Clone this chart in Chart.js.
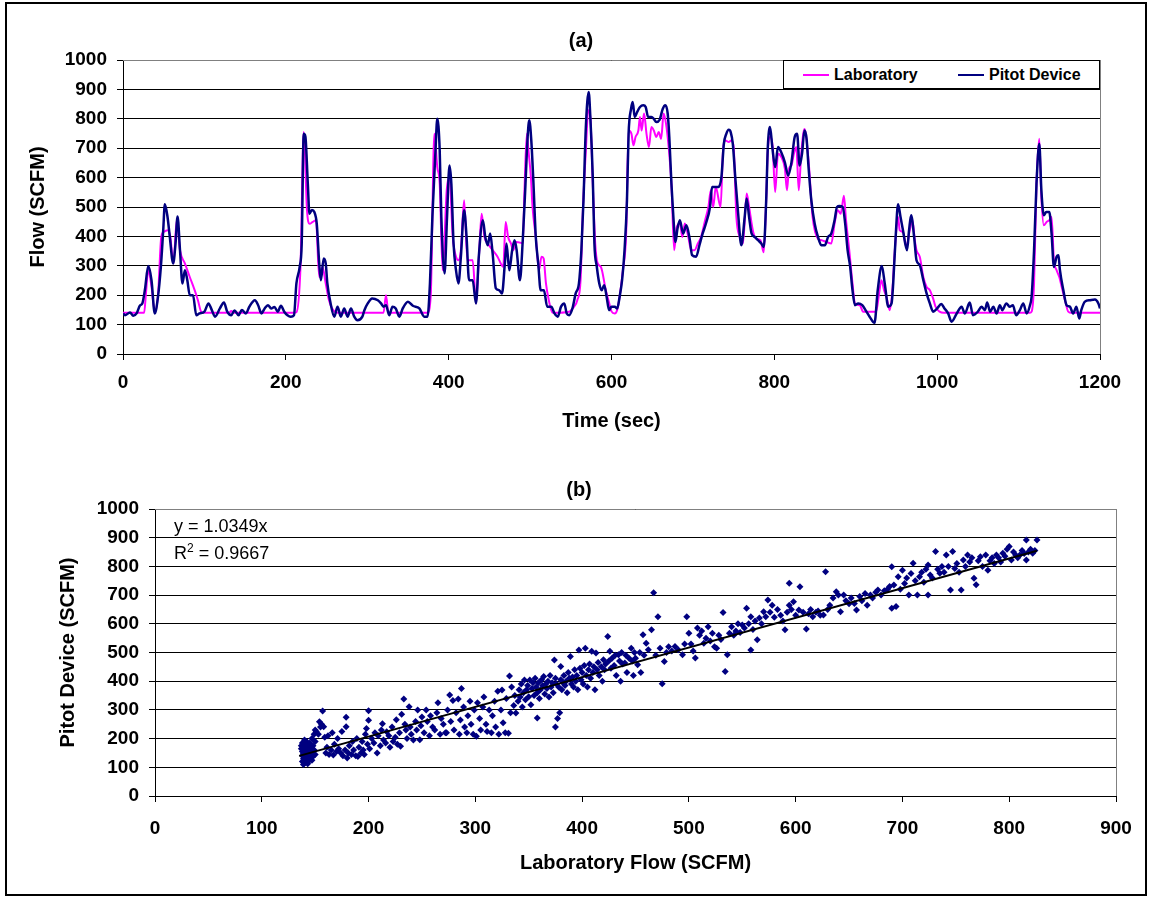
<!DOCTYPE html>
<html>
<head>
<meta charset="utf-8">
<script src="https://cdn.jsdelivr.net/npm/chart.js@4.4.0/dist/chart.umd.min.js"></script>
<style>
  body { margin: 0; background: #fff; font-family: "Liberation Sans", Arial, sans-serif; }
  #page { position: relative; width: 1151px; height: 898px; overflow: hidden; background: #fff; }
  #frame { position: absolute; left: 5px; top: 2px; width: 1142px; height: 894px; border: 2px solid #000; box-sizing: border-box; }
  canvas { position: absolute; left: 0; }
  #chartA { top: 0; }
  #chartB { top: 450px; }
  .ttl { position: absolute; font-weight: bold; font-size: 20px; color: #000; transform: translate(-50%, -50%); white-space: nowrap; }
  #legendA { position: absolute; left: 783px; top: 60px; width: 317px; height: 29px; box-sizing: border-box; border: 1px solid #000; background: #fff; font-weight: bold; font-size: 16px; }
  #legendA .item { position: absolute; top: 0; height: 27px; line-height: 27px; white-space: nowrap; }
  #legendA .swatch { display: inline-block; width: 26px; height: 2px; vertical-align: middle; margin-right: 5px; position: relative; top: -1px; }
  .eq { position: absolute; left: 174px; font-size: 18px; color: #000; white-space: nowrap; line-height: 20px; }
  .eq sup { font-size: 12px; line-height: 0; vertical-align: 7px; }
</style>
</head>
<body>
<div id="page">
  <div id="frame"></div>
  <canvas id="chartA" width="1151" height="450"></canvas>
  <canvas id="chartB" width="1151" height="448"></canvas>
  <div class="ttl" style="left:581px;top:40px;">(a)</div>
  <div class="ttl" style="left:579px;top:489px;">(b)</div>
  <div id="legendA"></div>
  <div class="eq" style="top:516px;">y = 1.0349x</div>
  <div class="eq" style="top:543px;">R<sup>2</sup> = 0.9667</div>
</div>
<script>
// ===== DATA (a): time (sec) vs flow (SCFM) =====
const labSeries = [
  [0,140],[26,140],[28,200],[31,285],[35,230],[39,145],[43,200],[47,398],[50,415],[55,421],[58,400],[62,308],[66,455],[70,353],
  [76,308],[82,262],[88,217],[92,183],[96,144],[100,140],[130,140],[133,146],[136,140],[210,140],[213,142],[218,296],[222,755],
  [226,489],[229,443],[233,449],[237,455],[241,262],[245,296],[249,240],[253,183],[260,144],[265,140],[320,140],[323,200],[326,140],
  [374,140],[378,200],[382.4,749],[386,636],[389,579],[392.6,285],[397.6,557],[401,602],[405,398],[409,331],[412.3,319],[415,353],
  [419,523],[423,319],[429.5,319],[433.6,172],[437.6,353],[440.5,477],[444,398],[448,376],[454,353],[460,331],[464,308],[467,296],
  [470,449],[473,398],[476.5,376],[479.4,353],[482.6,381],[489,378],[491,376],[493,545],[496,749],[498,692],[501,602],[503,500],
  [507,398],[511,285],[514,331],[516.6,325],[519.5,240],[523,183],[527.6,140],[548,144],[554,161],[558,183],[562,251],[565,500],
  [568.5,692],[571.4,829],[574,806],[577,579],[580,376],[583,308],[587,296],[593,217],[597,175],[600,145],[604,138],[607,150],
  [610,195],[614,285],[618,410],[621,760],[624.5,749],[627,710],[629.5,738],[633,760],[635,806],[637,760],[640,818],[643,749],
  [646,704],[649,772],[652,760],[655,738],[658,755],[661,732],[664,818],[667,783],[670,710],[673.6,579],[677,353],[680,430],
  [684,444],[687,398],[690,444],[694,403],[698,353],[702,353],[706,376],[710,398],[715,455],[719,500],[722,557],[725,500],
  [728,568],[734,500],[737,692],[740,726],[744,721],[747,726],[750,704],[753.4,466],[757.5,398],[761.5,376],[766,546],[769,500],
  [774,415],[778,392],[783,387],[787,346],[790,523],[792,692],[795,738],[798,704],[801,551],[804.5,681],[808.6,670],[813,630],
  [815.5,557],[818,630],[821,641],[824,681],[827,704],[830,557],[833,680],[837,765],[842,659],[847,466],[853.6,392],[858,387],
  [864,381],[870,376],[874,444],[878,489],[881.5,477],[885.5,538],[888,457],[892,353],[896,240],[899,172],[905,166],[909,144],
  [925,144],[928.7,206],[931.5,251],[934.8,217],[937.7,195],[941.8,149],[945,217],[948,353],[952,466],[954,421],[958,415],
  [962,364],[966.3,421],[969.6,455],[972.5,387],[974.6,353],[978.7,330],[983,262],[987,228],[991,217],[995,189],[998,161],
  [1003,144],[1008,140],[1114,140],[1116,144],[1119,240],[1122,579],[1125.4,732],[1128,532],[1131,438],[1134.4,449],[1137.7,455],
  [1140.5,466],[1143.4,319],[1146.7,285],[1150,262],[1153,228],[1157,183],[1161,144],[1165,140],[1200,140]
];

const pitotSeries = [
  [0,138],[2.4,132],[8.6,141],[12.6,130],[16.7,138],[20.8,165],[23.7,172],[27,220],[31,299],[35,251],[39,138],[43,195],[46.5,296],
  [49.4,421],[51.4,509],[54.7,466],[57.5,398],[61.6,308],[64.5,375],[67,468],[70,353],[73,240],[76,285],[79,251],[82,200],[86,200],
  [90,132],[94,138],[100,144],[105,172],[109,150],[113,127],[119,155],[124,175],[128,144],[133,132],[137,148],[142,132],[146,150],
  [151,138],[155,160],[162,183],[166,166],[170,138],[174,155],[178,166],[182,155],[186,160],[190,144],[194,164],[198,144],[202,132],
  [206,127],[210,132],[213,240],[217,296],[219.5,375],[222,749],[224,740],[227,579],[229,477],[232,490],[235,483],[238,443],[241,308],
  [243,251],[246.5,325],[249,308],[251,240],[255,172],[259.5,127],[263.5,161],[267.6,127],[271.7,155],[275.8,127],[280,155],[284,127],
  [288,115],[294,127],[296.5,149],[300.6,172],[306,189],[313,183],[317,172],[320,161],[323,166],[327,132],[331,161],[335,155],
  [339.5,127],[343.6,155],[350,178],[356,164],[364,155],[370,127],[374,127],[377,240],[380,466],[384,704],[386,800],[389,692],
  [391,466],[395,274],[398,466],[401,641],[403.3,579],[406,376],[409,285],[412,240],[415,331],[419,489],[422,398],[425,251],
  [429.5,251],[433.6,172],[437,331],[442,455],[445,398],[448,370],[451,410],[454,342],[458,223],[462,217],[465.5,206],[469,308],
  [471,376],[474.5,285],[478,353],[481,387],[483.5,353],[487.5,251],[491,387],[494,557],[497,738],[499,795],[501.5,726],[504,590],
  [507,398],[510,308],[513,217],[517,217],[521,161],[526,161],[530,138],[534,127],[538,161],[542,172],[545,138],[548,132],[552,155],
  [556,206],[560,240],[563,353],[565.6,523],[568.5,772],[572,891],[574,806],[577,602],[579,376],[582,296],[585,240],[588,217],
  [591,234],[594,195],[597,149],[600,161],[604,161],[607,155],[610,195],[613,251],[616,353],[619,523],[621,749],[624,834],[626,857],
  [628.6,806],[631.5,823],[635,840],[639,846],[642,840],[645,806],[649,806],[652,800],[655,789],[659,796],[663,834],[666,846],
  [669,818],[671,738],[673.6,579],[676,466],[678.5,381],[681,426],[684,455],[688,410],[692,438],[696,392],[699,336],[704,331],
  [708,370],[712,410],[716,444],[721,500],[723.5,568],[727,568],[731,568],[735,602],[738,715],[741,749],[744,763],[746.4,755],
  [749,715],[752,602],[755.4,483],[759.5,370],[763.6,466],[766,529],[769,466],[772,410],[776,398],[780,387],[784,376],[787,364],
  [790,523],[792,704],[794.7,772],[797.5,704],[801,636],[804.5,704],[808.6,685],[813,651],[817,607],[821,651],[825,738],[828,749],
  [831,641],[834,681],[837,760],[839.6,732],[842,636],[845.4,523],[849.5,444],[853.6,398],[857.7,370],[862,370],[866,398],[870,410],
  [874,455],[877,500],[880,503],[884,500],[887,444],[890,353],[893,300],[896,217],[899,166],[903,172],[908,166],[912,149],[917,127],
  [923,106],[927,217],[932,299],[935.6,240],[940,161],[944,172],[946,240],[949,398],[952,509],[955,466],[958,421],[963,353],
  [965.5,421],[968,472],[971.7,398],[974.6,319],[978.7,302],[983,251],[987,206],[991,172],[995,144],[1000,155],[1005,170],[1009,155],
  [1013.5,138],[1017.6,110],[1024,138],[1030,161],[1034,138],[1040,175],[1044,132],[1050,144],[1054.5,161],[1058.6,149],[1061.4,175],
  [1065,144],[1069,161],[1073,138],[1077,166],[1080,149],[1085,172],[1089,161],[1093,166],[1097,132],[1101.6,149],[1105.7,172],
  [1110,138],[1114,166],[1116,195],[1119,353],[1122,579],[1125.4,715],[1128,557],[1131,472],[1134,483],[1137.7,483],[1140.5,410],
  [1143.4,296],[1146.7,331],[1149,336],[1150.8,285],[1155,217],[1159,166],[1163,161],[1167,138],[1171,161],[1174.5,121],[1177,149],
  [1181.5,178],[1187.7,183],[1193.8,185],[1198,172],[1200,155]
];

// ===== DATA (b): laboratory flow vs pitot device =====
const scatterPairs = [
  [137,165],[137,175],[138,120],[138,140],[138,155],[138,185],[139,110],[139,130],[139,148],[139,170],[140,115],[140,125],[140,138],
  [140,160],[140,180],[140,195],[141,118],[141,145],[141,168],[142,128],[142,150],[142,175],[142,190],[143,112],[143,135],[143,158],
  [144,122],[144,145],[144,170],[145,132],[145,155],[145,185],[146,140],[146,165],[147,125],[147,150],[147,200],[148,138],[148,175],
  [149,160],[149,215],[150,145],[150,190],[150,230],
  [151,225],[153,215],[154,259],[155,240],[156,250],[157,296],[158,241],[159,205],[160,150],[161,170],[162,210],[163,145],[165,160],
  [166,220],[167,143],[168,180],[170,155],[171,200],[172,165],[174,150],[175,225],[176,140],[178,160],[179,241],[179,274],[180,132],
  [181,150],[182,175],[184,145],[185,190],[186,160],[188,140],[189,200],[190,138],[191,170],[193,150],[194,190],[195,160],[196,145],
  [197,215],[198,235],[199,180],[200,264],[200,297],[201,165],
  [203,200],[205,185],[206,220],[208,150],[209,210],[211,175],[212,230],[213,252],[214,195],[216,185],[217,224],[219,210],[220,170],
  [222,240],[223,190],[225,205],[226,266],[227,180],[229,220],[230,173],[231,285],[233,338],[234,250],[235,230],[236,200],[238,311],
  [239,240],[240,215],[242,195],[244,260],[245,230],[246,300],[248,196],[249,245],[250,275],[252,220],[254,300],[255,260],[257,210],
  [258,280],
  [260,240],[262,230],[264,290],[265,325],[267,215],[268,270],[270,250],[272,220],[273,220],[274,300],[276,352],[277,260],[279,333],
  [280,230],[282,290],[284,338],[285,215],[286,265],[287,375],[289,310],[290,240],[292,220],[293,280],[295,330],[296,250],[298,215],
  [299,300],[301,208],[302,325],[304,270],[305,230],[307,310],[308,345],[310,250],[311,225],[313,300],[315,220],[316,280],[318,330],
  [319,240],[321,365],[322,215],[324,300],[325,369],[326,255],[328,220],[329,340],[331,219],[332,418],[333,290],[334,380],[336,315],
  [337,350],[338,289],
  [340,330],[341,370],[342,345],[343,390],[344,310],[345,360],[346,404],[347,335],[348,370],[349,385],[350,346],[351,404],[352,318],
  [353,375],[354,395],[355,350],[356,410],[357,380],[358,272],[358,360],[359,395],[360,340],[361,370],[362,405],[363,385],[364,416],
  [365,355],[366,390],[367,375],[368,400],[369,345],[370,420],[371,380],[372,395],[373,360],[374,474],[375,240],[375,410],[376,390],
  [377,270],[378,380],[379,290],[380,451],[380,405],[381,370],[382,395],[383,420],[384,385],[385,400],[386,360],[387,430],[388,410],
  [389,486],[390,390],[391,415],[392,380],[393,440],[394,400],[395,420],[396,370],[397,509],[398,445],[399,405],[400,430],[401,390],
  [402,455],[403,515],[404,420],[405,380],[406,440],[407,460],[408,410],[409,504],[410,430],[411,450],[412,370],[413,498],[414,440],
  [415,465],[416,420],[418,450],[419,400],[420,475],[421,440],[422,460],[424,556],[425,470],[426,504],[427,445],[428,480],[430,455],
  [431,490],[432,420],[434,492],[435,470],[436,400],[437,500],[438,460],[440,463],[441,490],[442,430],[444,480],[446,515],[447,470],
  [448,420],[449,500],[450,480],[452,457],[454,500],[455,430],[457,562],[458,490],
  [460,532],[462,510],[465,579],[467,708],[469,490],[471,625],[473,515],[475,391],[477,469],[479,500],[481,520],[484,505],[487,521],
  [490,510],[494,492],[496,530],[498,625],[500,567],[502,530],[504,505],[506,481],[508,585],[510,560],[512,575],[514,532],[516,550],
  [518,590],[520,540],[522,567],[524,520],[526,515],[528,560],[530,545],[532,639],[534,434],[536,492],[538,567],[540,590],[542,560],
  [544,575],[546,600],[548,570],[550,596],[552,585],[554,654],[556,600],[558,625],[558,509],
  [560,580],[562,610],[564,544],[566,620],[568,600],[570,642],[572,625],[574,683],[576,640],[578,665],[580,623],[583,650],[586,630],
  [588,610],[590,579],[592,640],[594,741],[594,665],[596,650],[598,677],[600,630],[603,648],[604,729],[607,640],[610,582],[612,635],
  [614,650],[616,625],[619,640],[621,645],[623,630],[626,631],[628,781],[630,650],[632,665],[635,690],[638,712],[640,700],[642,642],
  [645,700],[647,680],[650,670],[652,690],[655,671],[657,648],[660,695],[662,680],[665,706],[667,665],[670,700],[672,690],[675,710],
  [677,718],[680,700],[683,715],[686,720],[688,730],[690,654],[690,799],[692,735],[694,660],[696,764],[698,720],
  [700,787],[702,740],[704,760],[706,700],[708,775],[710,811],[712,750],[714,700],[716,764],[718,780],[720,745],[722,790],[724,805],
  [724,700],[726,770],[728,760],[731,852],[733,790],[735,776],[737,800],[739,780],[741,840],[743,800],[745,718],[747,852],[749,793],
  [751,810],[753,780],[755,718],[757,822],[759,800],[761,840],[763,815],[765,830],[767,759],[769,736],[771,820],[773,834],[775,800],
  [778,840],[780,787],[782,820],[784,830],[786,810],[788,840],[790,830],[792,815],[794,846],[796,835],[798,860],[800,869],[802,822],
  [804,850],[806,840],[808,830],[810,840],[812,855],[814,845],[816,892],[816,822],[818,850],[820,860],[822,846],[824,855],[826,892]
];

// linear trendline through origin, from the equation printed on the chart
const trendSlope = 1.0349;
const trendRange = [135, 826];

const timeTicks = { min: 0, max: 1200, step: 200 };
const labTicks = { min: 0, max: 900, step: 100 };
const flowTicks = { min: 0, max: 1000, step: 100 };

// ===== COMMON STYLE =====
const FONT = "'Liberation Sans', Arial, sans-serif";
Chart.defaults.font.family = FONT;
Chart.defaults.color = '#000';

const tickFont = { family: FONT, size: 19, weight: 'bold' };
const titleFont = { family: FONT, size: 20, weight: 'bold' };
const plainNum = v => String(v);

// gray border on the right side of the plot area
const plotFrame = {
  id: 'plotFrame',
  afterDraw(chart) {
    const { ctx, chartArea: a } = chart;
    ctx.save();
    ctx.strokeStyle = '#808080';
    ctx.lineWidth = 1;
    ctx.beginPath();
    ctx.moveTo(Math.round(a.right) + 0.5, a.top);
    ctx.lineTo(Math.round(a.right) + 0.5, a.bottom);
    ctx.moveTo(a.left, Math.round(a.top) + 0.5);
    ctx.lineTo(a.right, Math.round(a.top) + 0.5);
    ctx.stroke();
    ctx.restore();
  }
};

function xScale(range, label, height, titlePad, tickPad) {
  return {
    type: 'linear', min: range.min, max: range.max,
    ticks: { stepSize: range.step, font: tickFont, color: '#000', padding: tickPad, maxRotation: 0, callback: plainNum },
    grid: { drawOnChartArea: false, drawTicks: true, tickLength: 6, color: '#000' },
    border: { color: '#000', width: 1 },
    title: { display: true, text: label, font: titleFont, color: '#000', padding: { top: 0, bottom: titlePad } },
    afterFit: s => { s.height = height; }
  };
}

function yScale(range, label, width, titlePad) {
  return {
    type: 'linear', min: range.min, max: range.max,
    ticks: { stepSize: range.step, font: tickFont, color: '#000', padding: 10, callback: plainNum },
    grid: { color: '#000', lineWidth: 1, tickLength: 6 },
    border: { color: '#000', width: 1 },
    title: { display: true, text: label, font: titleFont, color: '#000', padding: { top: titlePad, bottom: 0 } },
    afterFit: s => { s.width = width; }
  };
}

// ===== CHART (a) =====
const chartA = new Chart(document.getElementById('chartA'), {
  type: 'line',
  data: {
    datasets: [
      {
        label: 'Laboratory',
        data: labSeries.map(p => ({ x: p[0], y: p[1] })),
        borderColor: '#FF00FF', borderWidth: 2, pointRadius: 0,
        cubicInterpolationMode: 'monotone', order: 1
      },
      {
        label: 'Pitot Device',
        data: pitotSeries.map(p => ({ x: p[0], y: p[1] })),
        borderColor: '#000080', borderWidth: 2.5, pointRadius: 0,
        cubicInterpolationMode: 'monotone', order: 0
      }
    ]
  },
  options: {
    responsive: false, animation: false, devicePixelRatio: 1,
    layout: { padding: { top: 60, right: 51, bottom: 6, left: 0 } },
    plugins: { legend: { display: false }, tooltip: { enabled: false } },
    scales: {
      x: xScale(timeTicks, 'Time (sec)', 90, 11, 11),
      y: yScale(flowTicks, 'Flow (SCFM)', 123, 26)
    }
  },
  plugins: [plotFrame]
});

// legend (a), inside plot top right
const legendSlots = [19, 174];
document.getElementById('legendA').innerHTML = chartA.data.datasets.map((d, i) =>
  `<span class="item" style="left:${legendSlots[i]}px"><span class="swatch" style="background:${d.borderColor}"></span>${d.label}</span>`
).join('');

// ===== CHART (b) =====
new Chart(document.getElementById('chartB'), {
  type: 'scatter',
  data: {
    datasets: [
      {
        label: 'Pitot vs Lab',
        data: scatterPairs.map(p => ({ x: p[0], y: p[1] })),
        pointStyle: 'rectRot', pointRadius: 3.5, borderWidth: 0,
        backgroundColor: '#000080', borderColor: '#000080', order: 1
      },
      {
        type: 'line',
        label: 'Linear',
        data: trendRange.map(x => ({ x: x, y: x * trendSlope })),
        borderColor: '#000', borderWidth: 2, pointRadius: 0, showLine: true, order: 0
      }
    ]
  },
  options: {
    responsive: false, animation: false, devicePixelRatio: 1,
    layout: { padding: { top: 59, right: 35, bottom: 7, left: 0 } },
    plugins: { legend: { display: false }, tooltip: { enabled: false } },
    scales: {
      x: xScale(labTicks, 'Laboratory Flow (SCFM)', 95, 16, 15),
      y: yScale(flowTicks, 'Pitot Device (SCFM)', 155, 56)
    }
  },
  plugins: [plotFrame]
});
</script>
</body>
</html>
